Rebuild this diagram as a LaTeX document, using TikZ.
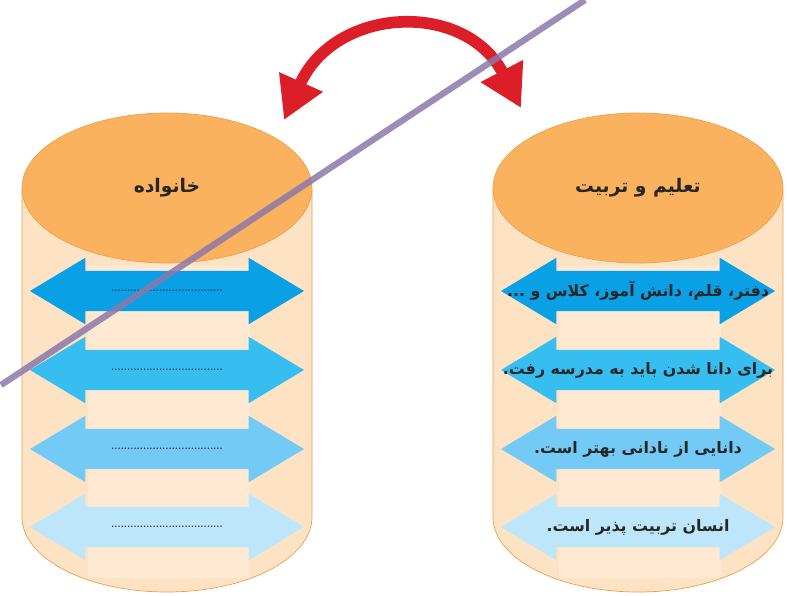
\documentclass[tikz,border=0pt]{standalone}
\usepackage{fontspec}
\usetikzlibrary{arrows.meta, positioning, shapes.geometric, shapes.arrows}
\newfontfamily\arabicfont[Script=Arabic]{DejaVu Sans}
\TeXXeTstate=1
\definecolor{lidorange}{RGB}{250,178,95}
\definecolor{lidedge}{RGB}{236,160,78}
\definecolor{bodypeach}{RGB}{253,226,196}
\definecolor{bodylight}{RGB}{255,233,211}
\definecolor{blueA}{RGB}{10,160,230}
\definecolor{blueB}{RGB}{55,190,240}
\definecolor{blueC}{RGB}{115,202,245}
\definecolor{blueD}{RGB}{190,230,250}
\definecolor{swapred}{RGB}{220,30,40}
\definecolor{strike}{RGB}{140,120,170}
\definecolor{dotnavy}{RGB}{30,40,80}
\newcommand{\fa}[1]{{\arabicfont\beginR #1\endR}}

\begin{document}
\begin{tikzpicture}[
    x=0.03cm, y=-0.03cm,
    lid/.style={ellipse, fill=lidorange, draw=lidedge, line width=0.6pt,
        minimum width=8.7cm, minimum height=4.5cm, inner sep=0pt,
        text=black!85, font=\fontsize{16}{18}\selectfont\bfseries},
    twoway/.style={double arrow, double arrow tip angle=62,
        double arrow head extend=0.39cm, minimum height=8.22cm,
        minimum width=1.98cm, inner xsep=0pt, inner ysep=0.6cm},
    fatext/.style={inner sep=0pt, text=black!85, font=\fontsize{13.5}{15}\selectfont\bfseries},
    dots/.style={inner sep=0pt, text=dotnavy, font=\fontsize{8}{9}\selectfont\bfseries}
]
\useasboundingbox (0,0) rectangle (787,596);

% cylinder bodies
\filldraw[fill=bodypeach, draw=lidedge, line width=0.6pt]
    (22,190) -- (22,517) arc[start angle=180, end angle=0, x radius=145, y radius=75] -- (312,190) -- cycle;
\fill[bodylight] (88,265) rectangle (250,578);
\filldraw[fill=bodypeach, draw=lidedge, line width=0.6pt]
    (493,190) -- (493,517) arc[start angle=180, end angle=0, x radius=145, y radius=75] -- (783,190) -- cycle;
\fill[bodylight] (559,265) rectangle (721,578);

% lids
\node (family) [lid] at (167,188) {\fa{خانواده}};
\node (school) [lid] at (638,188) {\fa{تعلیم و تربیت}};

% left arrows
\node (f1) [twoway, fill=blueA] at (167,291) {};
\node (f2) [twoway, fill=blueB] at (167,370) {};
\node (f3) [twoway, fill=blueC] at (167,449) {};
\node (f4) [twoway, fill=blueD] at (167,527) {};

\node (d1) [dots] at (f1) {...................................};
\node (d2) [dots] at (f2) {...................................};
\node (d3) [dots] at (f3) {...................................};
\node (d4) [dots] at (f4) {...................................};

% right arrows
\node (s1) [twoway, fill=blueA] at (638,291) {};
\node (s2) [twoway, fill=blueB] at (638,370) {};
\node (s3) [twoway, fill=blueC] at (638,449) {};
\node (s4) [twoway, fill=blueD] at (638,527) {};

\node (e1) [fatext] at (s1) {\fa{دفتر، قلم، دانش آموز، کلاس و ...}};
\node (e2) [fatext] at (s2) {\fa{برای دانا شدن باید به مدرسه رفت.}};
\node (e3) [fatext] at (s3) {\fa{دانایی از نادانی بهتر است.}};
\node (e4) [fatext] at (s4) {\fa{انسان تربیت پذیر است.}};

% red swap arrow
\coordinate (swapL) at (284,120);
\coordinate (swapR) at (521,108);
\draw[swapred, line width=0.35cm,
    {Triangle[length=1.25cm, width=1.35cm]}-{Triangle[length=1.25cm, width=1.35cm]}]
    (swapL) .. controls (335,6) and (465,0) .. (swapR);

% strike line
\coordinate (slashA) at (1,385);
\coordinate (slashB) at (585,0);
\draw[strike, line width=0.19cm, opacity=0.85] (slashA) -- (slashB);

\end{tikzpicture}
\end{document}
